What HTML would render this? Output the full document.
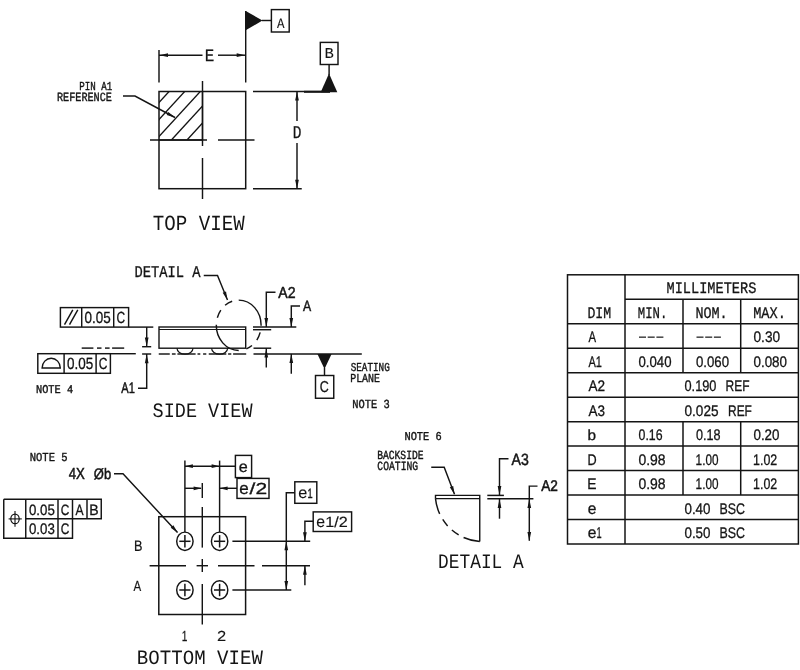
<!DOCTYPE html>
<html lang="en">
<head>
<meta charset="utf-8">
<title>Package outline drawing</title>
<style>
html,body{margin:0;padding:0;background:#fff;}
body{width:800px;height:670px;overflow:hidden;font-family:"Liberation Sans",sans-serif;}
svg{display:block;will-change:transform;}
svg line,svg path,svg rect,svg ellipse{fill:none;stroke:#141414;stroke-linecap:butt;stroke-linejoin:miter;}
svg .s{fill:#141414;stroke:none;}
svg .t{fill:#141414;text-rendering:geometricPrecision;}
</style>
</head>
<body>
<svg width="800" height="670" viewBox="0 0 800 670">

<clipPath id="hc"><rect x="159" y="91.5" width="43.5" height="48.5"/></clipPath>
<g clip-path="url(#hc)">
<line x1="124.6" y1="140" x2="184.6" y2="74.6" stroke-width="1.35"/>
<line x1="140.2" y1="140" x2="200.2" y2="74.6" stroke-width="1.35"/>
<line x1="155.8" y1="140" x2="215.8" y2="74.6" stroke-width="1.35"/>
<line x1="171.4" y1="140" x2="231.4" y2="74.6" stroke-width="1.35"/>
<line x1="187" y1="140" x2="247" y2="74.6" stroke-width="1.35"/>
</g>
<rect x="159" y="91.5" width="86.7" height="97.2" stroke-width="1.5"/>
<line x1="159" y1="140" x2="202.5" y2="140" stroke-width="1.4"/>
<line x1="202.5" y1="91.5" x2="202.5" y2="140" stroke-width="1.4"/>
<line x1="150" y1="140" x2="207" y2="140" stroke-width="1.45"/>
<line x1="218" y1="140" x2="254.5" y2="140" stroke-width="1.45"/>
<line x1="202.5" y1="81" x2="202.5" y2="146" stroke-width="1.45"/>
<line x1="202.5" y1="158" x2="202.5" y2="199" stroke-width="1.45"/>
<line x1="159" y1="50" x2="159" y2="82.5" stroke-width="1.45"/>
<line x1="245.7" y1="11" x2="245.7" y2="82.5" stroke-width="1.45"/>
<line x1="159" y1="55.2" x2="202.5" y2="55.2" stroke-width="1.45"/>
<line x1="218" y1="55.2" x2="245.7" y2="55.2" stroke-width="1.45"/>
<polygon class="s" points="159.5,55.2 168,53.35 168,57.05"/>
<polygon class="s" points="245.2,55.2 236.7,57.05 236.7,53.35"/>
<text class="t" transform="translate(204.73 61) scale(0.9129 1)" font-family="'Liberation Mono', monospace" font-size="17.34" stroke="#141414" stroke-width="0.3">E</text>
<polygon class="s" points="245.7,11 245.7,30.3 262.5,20.5"/>
<line x1="262" y1="20.5" x2="271" y2="20.5" stroke-width="1.45"/>
<rect x="271.4" y="9.6" width="17.8" height="22.4" stroke-width="1.45"/>
<text class="t" transform="translate(277 27.5) scale(0.8651 1)" font-family="'Liberation Mono', monospace" font-size="14.45" stroke="#141414" stroke-width="0.1">A</text>
<rect x="320.3" y="42.4" width="17.7" height="22.1" stroke-width="1.45"/>
<text class="t" transform="translate(324.51 57.5) scale(1.0220 1)" font-family="'Liberation Mono', monospace" font-size="15.21" stroke="#141414" stroke-width="0.1">B</text>
<line x1="329.1" y1="64.5" x2="329.1" y2="75" stroke-width="1.45"/>
<polygon class="s" points="329,73.4 320.7,92.3 337.3,92.3"/>
<line x1="304" y1="91.8" x2="330" y2="91.8" stroke-width="2"/>
<line x1="253" y1="91.5" x2="330" y2="91.5" stroke-width="1.45"/>
<line x1="253" y1="188.7" x2="301.75" y2="188.7" stroke-width="1.45"/>
<line x1="297" y1="91.5" x2="297" y2="121" stroke-width="1.45"/>
<line x1="297" y1="143" x2="297" y2="188.7" stroke-width="1.45"/>
<polygon class="s" points="297,91.5 298.85,100.5 295.15,100.5"/>
<polygon class="s" points="297,188.7 295.15,179.7 298.85,179.7"/>
<text class="t" transform="translate(292.74 138) scale(0.8062 1)" font-family="'Liberation Mono', monospace" font-size="17.95" stroke="#141414" stroke-width="0.3">D</text>
<path d="M123 96 L135 96 L175 117.5" stroke-width="1.45"/>
<polygon class="s" points="175,117.5 166.66,115.06 168.37,111.89"/>
<text class="t" transform="translate(79.27 89.5) scale(0.7526 1)" font-family="'Liberation Mono', monospace" font-size="12.17" stroke="#141414" stroke-width="0.4">PIN A1</text>
<text class="t" transform="translate(56.99 101.2) scale(0.8159 1)" font-family="'Liberation Mono', monospace" font-size="12.47" stroke="#141414" stroke-width="0.4">REFERENCE</text>
<text class="t" transform="translate(152.78 229.8) scale(0.8867 1)" font-family="'Liberation Mono', monospace" font-size="21.6">TOP VIEW</text>
<rect x="60.4" y="307.6" width="68.2" height="19.5" stroke-width="1.45"/>
<line x1="81.7" y1="307.6" x2="81.7" y2="327.1" stroke-width="1.45"/>
<line x1="113.7" y1="307.6" x2="113.7" y2="327.1" stroke-width="1.45"/>
<line x1="64.5" y1="324.6" x2="72.8" y2="309.9" stroke-width="1.4"/>
<line x1="69.5" y1="324.6" x2="77.8" y2="309.9" stroke-width="1.4"/>
<text class="t" transform="translate(84.56 322.9) scale(0.8336 1)" font-family="'Liberation Sans', sans-serif" font-size="16.15" stroke="#141414" stroke-width="0.3">0.05</text>
<text class="t" transform="translate(116.4 322.9) scale(0.7442 1)" font-family="'Liberation Sans', sans-serif" font-size="16.15" stroke="#141414" stroke-width="0.3">C</text>
<line x1="128.6" y1="327.1" x2="153.3" y2="327.1" stroke-width="1.45"/>
<rect x="37.8" y="353.7" width="72.6" height="19.6" stroke-width="1.45"/>
<line x1="64.1" y1="353.7" x2="64.1" y2="373.3" stroke-width="1.45"/>
<line x1="96.1" y1="353.7" x2="96.1" y2="373.3" stroke-width="1.45"/>
<path d="M42.1 368 L60.3 368 A9.1 9.7 0 0 0 42.1 368 Z" stroke-width="1.4"/>
<text class="t" transform="translate(66.96 368.9) scale(0.8261 1)" font-family="'Liberation Sans', sans-serif" font-size="16.29" stroke="#141414" stroke-width="0.3">0.05</text>
<text class="t" transform="translate(98.7 368.9) scale(0.7376 1)" font-family="'Liberation Sans', sans-serif" font-size="16.29" stroke="#141414" stroke-width="0.3">C</text>
<line x1="110.4" y1="353.7" x2="135.8" y2="353.7" stroke-width="1.45"/>
<line x1="81.7" y1="348.1" x2="93.4" y2="348.1" stroke-width="1.45"/>
<line x1="97" y1="348.1" x2="101.5" y2="348.1" stroke-width="1.45"/>
<line x1="105" y1="348.1" x2="109.6" y2="348.1" stroke-width="1.45"/>
<line x1="112.1" y1="348.1" x2="124.2" y2="348.1" stroke-width="1.45"/>
<line x1="146.7" y1="327.1" x2="146.7" y2="346.3" stroke-width="1.45"/>
<polygon class="s" points="146.7,346.5 144.85,337.5 148.55,337.5"/>
<line x1="142.1" y1="346.7" x2="151.2" y2="346.7" stroke-width="1.45"/>
<line x1="142.1" y1="354" x2="151.2" y2="354" stroke-width="1.45"/>
<polygon class="s" points="146.7,354.2 148.55,363.2 144.85,363.2"/>
<path d="M146.7 354 L146.7 388.2 L138 388.2" stroke-width="1.45"/>
<text class="t" transform="translate(121.37 393.4) scale(0.7329 1)" font-family="'Liberation Sans', sans-serif" font-size="15.13" stroke="#141414" stroke-width="0.5">A1</text>
<text class="t" transform="translate(35.97 393.4) scale(0.8697 1)" font-family="'Liberation Mono', monospace" font-size="11.86" stroke="#141414" stroke-width="0.4">NOTE 4</text>
<rect x="159" y="327" width="86.7" height="21.2" stroke-width="1.4"/>
<line x1="159" y1="329.5" x2="245.7" y2="329.5" stroke-width="1.2"/>
<path d="M177 348.2 A8 6.0 0 0 0 193 348.2" stroke-width="1.2"/>
<path d="M211.6 348.2 A8 6.0 0 0 0 227.6 348.2" stroke-width="1.2"/>
<line x1="158.75" y1="354" x2="169.75" y2="354" stroke-width="1.45"/>
<line x1="171.9" y1="354" x2="175.6" y2="354" stroke-width="1.45"/>
<line x1="177.4" y1="354" x2="195.6" y2="354" stroke-width="1.45"/>
<line x1="197.5" y1="354" x2="200.3" y2="354" stroke-width="1.45"/>
<line x1="203.1" y1="354" x2="206.3" y2="354" stroke-width="1.45"/>
<line x1="208.75" y1="354" x2="226.3" y2="354" stroke-width="1.45"/>
<line x1="228.1" y1="354" x2="231.3" y2="354" stroke-width="1.45"/>
<line x1="233.1" y1="354" x2="246.2" y2="354" stroke-width="1.45"/>
<path d="M238.7 300.1 A22.4 25.15 0 0 1 261.1 325.69" stroke-width="1.45"/>
<path d="M260.18 332.39 A22.4 25.15 0 0 1 256.82 340.03" stroke-width="1.45"/>
<path d="M251.96 345.52 A22.4 25.15 0 0 1 246.36 348.88" stroke-width="1.45"/>
<path d="M238.7 350.4 A22.4 25.15 0 0 1 216.3 324.81" stroke-width="1.45"/>
<path d="M217.34 317.69 A22.4 25.15 0 0 1 220.81 310.11" stroke-width="1.45"/>
<path d="M225.09 305.27 A22.4 25.15 0 0 1 232.15 301.2" stroke-width="1.45"/>
<path d="M203.75 275.5 L217.5 275.5 L227.5 300" stroke-width="1.45"/>
<polygon class="s" points="227.5,300 222.67,292.78 226.01,291.44"/>
<text class="t" transform="translate(134.4 277.4) scale(0.8397 1)" font-family="'Liberation Mono', monospace" font-size="16.43" stroke="#141414" stroke-width="0.3">DETAIL A</text>
<line x1="253" y1="326.9" x2="296.3" y2="326.9" stroke-width="1.45"/>
<line x1="253" y1="329.7" x2="271.2" y2="329.7" stroke-width="1.45"/>
<line x1="253.5" y1="348.2" x2="271.2" y2="348.2" stroke-width="1.45"/>
<line x1="253.5" y1="354" x2="361.8" y2="354" stroke-width="1.5"/>
<path d="M275.5 292.2 L266.3 292.2 L266.3 327" stroke-width="1.45"/>
<polygon class="s" points="266.3,326.9 264.45,317.9 268.15,317.9"/>
<line x1="266.3" y1="348.2" x2="266.3" y2="367.5" stroke-width="1.45"/>
<polygon class="s" points="266.3,348.4 268.15,357.4 264.45,357.4"/>
<text class="t" transform="translate(278.26 297.5) scale(0.8895 1)" font-family="'Liberation Sans', sans-serif" font-size="15.85" stroke="#141414" stroke-width="0.5">A2</text>
<path d="M300 305.9 L291.3 305.9 L291.3 327" stroke-width="1.45"/>
<polygon class="s" points="291.3,326.9 289.45,317.9 293.15,317.9"/>
<line x1="291.3" y1="353.9" x2="291.3" y2="373.75" stroke-width="1.45"/>
<polygon class="s" points="291.3,354.1 293.15,363.1 289.45,363.1"/>
<text class="t" transform="translate(302.97 311.1) scale(0.8161 1)" font-family="'Liberation Sans', sans-serif" font-size="14.98" stroke="#141414" stroke-width="0.5">A</text>
<polygon class="s" points="317.4,353.9 331.6,353.9 324.5,369"/>
<line x1="324.5" y1="368" x2="324.5" y2="375.5" stroke-width="1.45"/>
<rect x="315.5" y="375.5" width="18.25" height="22.75" stroke-width="1.45"/>
<text class="t" transform="translate(319.68 392) scale(0.7878 1)" font-family="'Liberation Sans', sans-serif" font-size="15.85" stroke="#141414" stroke-width="0.3">C</text>
<text class="t" transform="translate(350.63 370.9) scale(0.7662 1)" font-family="'Liberation Mono', monospace" font-size="12.17" stroke="#141414" stroke-width="0.4">SEATING</text>
<text class="t" transform="translate(350.2 381.8) scale(0.8169 1)" font-family="'Liberation Mono', monospace" font-size="12.17" stroke="#141414" stroke-width="0.4">PLANE</text>
<text class="t" transform="translate(352.17 408.1) scale(0.8452 1)" font-family="'Liberation Mono', monospace" font-size="12.32" stroke="#141414" stroke-width="0.4">NOTE 3</text>
<text class="t" transform="translate(152.56 417.3) scale(0.9023 1)" font-family="'Liberation Mono', monospace" font-size="20.53">SIDE VIEW</text>
<text class="t" transform="translate(29.66 460.5) scale(0.8676 1)" font-family="'Liberation Mono', monospace" font-size="12.17" stroke="#141414" stroke-width="0.4">NOTE 5</text>
<text class="t" transform="translate(68.7 479.1) scale(0.8227 1)" font-family="'Liberation Sans', sans-serif" font-size="16" stroke="#141414" stroke-width="0.5">4X</text>
<text class="t" transform="translate(93.81 479.1) scale(0.8560 1)" font-family="'Liberation Sans', sans-serif" font-size="15.17" stroke="#141414" stroke-width="0.5">Øb</text>
<path d="M114 473.7 L123 473.7 L177.5 532.5" stroke-width="1.45"/>
<polygon class="s" points="177.8,532.8 170.72,527.76 173.37,525.33"/>
<path d="M3.75 499.25 L101.25 499.25 L101.25 518.75 L25.75 518.75" stroke-width="1.45"/>
<path d="M3.75 499.25 L3.75 538.25 L72.5 538.25 L72.5 499.25" stroke-width="1.45"/>
<line x1="25.75" y1="499.25" x2="25.75" y2="538.25" stroke-width="1.45"/>
<line x1="58" y1="499.25" x2="58" y2="538.25" stroke-width="1.45"/>
<line x1="87" y1="499.25" x2="87" y2="518.75" stroke-width="1.45"/>
<ellipse cx="15" cy="518.9" rx="4.2" ry="4.8" stroke-width="1.2"/>
<line x1="8.6" y1="518.9" x2="21.8" y2="518.9" stroke-width="1.1"/>
<line x1="15" y1="511" x2="15" y2="526.8" stroke-width="1.1"/>
<text class="t" transform="translate(28.97 514.5) scale(0.8901 1)" font-family="'Liberation Sans', sans-serif" font-size="14.91" stroke="#141414" stroke-width="0.3">0.05</text>
<text class="t" transform="translate(60.66 514.5) scale(0.7953 1)" font-family="'Liberation Sans', sans-serif" font-size="14.91" stroke="#141414" stroke-width="0.3">C</text>
<text class="t" transform="translate(75.47 514.5) scale(0.8099 1)" font-family="'Liberation Sans', sans-serif" font-size="14.91" stroke="#141414" stroke-width="0.3">A</text>
<text class="t" transform="translate(89.34 514.5) scale(0.9447 1)" font-family="'Liberation Sans', sans-serif" font-size="14.91" stroke="#141414" stroke-width="0.3">B</text>
<text class="t" transform="translate(28.97 534.25) scale(0.8701 1)" font-family="'Liberation Sans', sans-serif" font-size="15.27" stroke="#141414" stroke-width="0.3">0.03</text>
<text class="t" transform="translate(60.66 534.25) scale(0.7764 1)" font-family="'Liberation Sans', sans-serif" font-size="15.27" stroke="#141414" stroke-width="0.3">C</text>
<rect x="158.8" y="516.7" width="86.8" height="97.8" stroke-width="1.5"/>
<ellipse cx="184.9" cy="541.3" rx="8.2" ry="9.2" stroke-width="1.45"/>
<line x1="179.3" y1="541.3" x2="190.5" y2="541.3" stroke-width="1.5"/>
<line x1="184.9" y1="535.1" x2="184.9" y2="547.5" stroke-width="1.5"/>
<ellipse cx="184.9" cy="590" rx="8.2" ry="9.2" stroke-width="1.45"/>
<line x1="179.3" y1="590" x2="190.5" y2="590" stroke-width="1.5"/>
<line x1="184.9" y1="583.8" x2="184.9" y2="596.2" stroke-width="1.5"/>
<ellipse cx="219.6" cy="541.3" rx="8.2" ry="9.2" stroke-width="1.45"/>
<line x1="214" y1="541.3" x2="225.2" y2="541.3" stroke-width="1.5"/>
<line x1="219.6" y1="535.1" x2="219.6" y2="547.5" stroke-width="1.5"/>
<ellipse cx="219.6" cy="590" rx="8.2" ry="9.2" stroke-width="1.45"/>
<line x1="214" y1="590" x2="225.2" y2="590" stroke-width="1.5"/>
<line x1="219.6" y1="583.8" x2="219.6" y2="596.2" stroke-width="1.5"/>
<line x1="202.3" y1="483" x2="202.3" y2="498" stroke-width="1.45"/>
<line x1="202.3" y1="507" x2="202.3" y2="547.6" stroke-width="1.45"/>
<line x1="202.3" y1="559" x2="202.3" y2="572" stroke-width="1.45"/>
<line x1="202.3" y1="584" x2="202.3" y2="624.5" stroke-width="1.45"/>
<line x1="149.6" y1="565.7" x2="186" y2="565.7" stroke-width="1.45"/>
<line x1="196.6" y1="565.7" x2="208" y2="565.7" stroke-width="1.45"/>
<line x1="218" y1="565.7" x2="254.5" y2="565.7" stroke-width="1.45"/>
<line x1="262" y1="565.7" x2="310" y2="565.7" stroke-width="1.45"/>
<line x1="184.9" y1="460.6" x2="184.9" y2="532.1" stroke-width="1.45"/>
<line x1="219.6" y1="460.6" x2="219.6" y2="532.1" stroke-width="1.45"/>
<line x1="184.9" y1="466.2" x2="235.4" y2="466.2" stroke-width="1.45"/>
<polygon class="s" points="184.9,466.2 192.9,464.35 192.9,468.05"/>
<polygon class="s" points="219.6,466.2 211.6,468.05 211.6,464.35"/>
<rect x="235.4" y="455.4" width="16.2" height="22.2" stroke-width="1.45"/>
<text class="t" transform="translate(238.71 472) scale(1.0347 1)" font-family="'Liberation Sans', sans-serif" font-size="15.63" stroke="#141414" stroke-width="0.3">e</text>
<line x1="184.9" y1="488.3" x2="201" y2="488.3" stroke-width="1.45"/>
<polygon class="s" points="201.6,488.3 193.6,490.15 193.6,486.45"/>
<line x1="219.6" y1="488.3" x2="237" y2="488.3" stroke-width="1.45"/>
<polygon class="s" points="219.6,488.3 227.6,486.45 227.6,490.15"/>
<rect x="237" y="478.4" width="32" height="20" stroke-width="1.45"/>
<text class="t" transform="translate(239.28 494) scale(1.0165 1)" font-family="'Liberation Sans', sans-serif" font-size="16.74" stroke="#141414" stroke-width="0.3">e</text>
<text class="t" transform="translate(249.6 494) scale(1.3099 1)" font-family="'Liberation Sans', sans-serif" font-size="16" stroke="#141414" stroke-width="0.3">/2</text>
<line x1="232.4" y1="541.3" x2="310.2" y2="541.3" stroke-width="1.6"/>
<line x1="232.4" y1="590" x2="291.3" y2="590" stroke-width="1.6"/>
<path d="M294.8 492.8 L286.3 492.8 L286.3 590" stroke-width="1.45"/>
<polygon class="s" points="286.3,541.3 288.15,550.3 284.45,550.3"/>
<polygon class="s" points="286.3,590 284.45,581 288.15,581"/>
<rect x="294.8" y="481.8" width="22" height="21.5" stroke-width="1.45"/>
<text class="t" transform="translate(298.31 498.3) scale(1.0106 1)" font-family="'Liberation Sans', sans-serif" font-size="16" stroke="#141414" stroke-width="0.15">e</text>
<text class="t" transform="translate(307.51 498.2) scale(0.6911 1)" font-family="'Liberation Sans', sans-serif" font-size="13.38" stroke="#141414" stroke-width="0.35">1</text>
<path d="M313.2 521.3 L304.9 521.3 L304.9 541.3" stroke-width="1.45"/>
<polygon class="s" points="304.9,541.3 303.05,532.3 306.75,532.3"/>
<line x1="304.9" y1="565.7" x2="304.9" y2="585.3" stroke-width="1.45"/>
<polygon class="s" points="304.9,565.7 306.75,574.7 303.05,574.7"/>
<rect x="313.2" y="511.9" width="38.4" height="19.6" stroke-width="1.45"/>
<text class="t" transform="translate(316.33 527.2) scale(0.9840 1)" font-family="'Liberation Sans', sans-serif" font-size="16" stroke="#141414" stroke-width="0.15">e</text>
<text class="t" transform="translate(325.18 527.2) scale(1.0923 1)" font-family="'Liberation Sans', sans-serif" font-size="14.84" stroke="#141414" stroke-width="0.15">1/2</text>
<text class="t" transform="translate(133.95 550.5) scale(0.8300 1)" font-family="'Liberation Sans', sans-serif" font-size="15.27" stroke="#141414" stroke-width="0.22">B</text>
<text class="t" transform="translate(133.57 591) scale(0.7887 1)" font-family="'Liberation Sans', sans-serif" font-size="14.55" stroke="#141414" stroke-width="0.22">A</text>
<text class="t" transform="translate(181.64 641) scale(0.6994 1)" font-family="'Liberation Sans', sans-serif" font-size="14.55" stroke="#141414" stroke-width="0.25">1</text>
<text class="t" transform="translate(216.98 641) scale(1.1332 1)" font-family="'Liberation Sans', sans-serif" font-size="14.55" stroke="#141414" stroke-width="0.1">2</text>
<text class="t" transform="translate(136.87 664) scale(0.9377 1)" font-family="'Liberation Mono', monospace" font-size="20.38">BOTTOM VIEW</text>
<text class="t" transform="translate(404.42 440) scale(0.8612 1)" font-family="'Liberation Mono', monospace" font-size="12.02" stroke="#141414" stroke-width="0.4">NOTE 6</text>
<text class="t" transform="translate(377.13 458.75) scale(0.7813 1)" font-family="'Liberation Mono', monospace" font-size="12.4" stroke="#141414" stroke-width="0.4">BACKSIDE</text>
<text class="t" transform="translate(377.37 470.25) scale(0.7731 1)" font-family="'Liberation Mono', monospace" font-size="12.55" stroke="#141414" stroke-width="0.4">COATING</text>
<path d="M431.25 467.2 L444.2 467.2 L454.5 494.25" stroke-width="1.45"/>
<polygon class="s" points="454.6,494.6 449.83,487.34 453.18,486.03"/>
<path d="M435.5 498.65 L435.5 495.4 L479.75 495.4 L479.75 541.5" stroke-width="1.4"/>
<line x1="435.5" y1="498.65" x2="479.75" y2="498.65" stroke-width="1.2"/>
<path d="M435.5 498.65 A47.8 47.8 0 0 0 439.68 513.9" stroke-width="1.45"/>
<path d="M442.73 519.47 A47.8 47.8 0 0 0 447.63 525.91" stroke-width="1.45"/>
<path d="M451.88 530.05 A47.8 47.8 0 0 0 458.65 534.91" stroke-width="1.45"/>
<path d="M463.58 537.47 A47.8 47.8 0 0 0 479.75 541.5" stroke-width="1.45"/>
<path d="M508.5 458.8 L499.5 458.8 L499.5 495" stroke-width="1.45"/>
<polygon class="s" points="499.5,495 497.65,486 501.35,486"/>
<line x1="487.3" y1="495.4" x2="503.9" y2="495.4" stroke-width="1.5"/>
<line x1="487.3" y1="498.65" x2="533.4" y2="498.65" stroke-width="1.5"/>
<line x1="499.5" y1="498.75" x2="499.5" y2="518.7" stroke-width="1.45"/>
<polygon class="s" points="499.5,499 501.35,508 497.65,508"/>
<text class="t" transform="translate(511.56 464.6) scale(0.8654 1)" font-family="'Liberation Sans', sans-serif" font-size="16.29" stroke="#141414" stroke-width="0.5">A3</text>
<path d="M537.5 486.1 L529.3 486.1 L529.3 540.75" stroke-width="1.45"/>
<polygon class="s" points="529.3,499 531.15,508 527.45,508"/>
<polygon class="s" points="529.3,541 527.45,532 531.15,532"/>
<text class="t" transform="translate(541.17 491.1) scale(0.8787 1)" font-family="'Liberation Sans', sans-serif" font-size="15.56" stroke="#141414" stroke-width="0.5">A2</text>
<text class="t" transform="translate(438.07 568) scale(0.8693 1)" font-family="'Liberation Mono', monospace" font-size="20.53">DETAIL A</text>
<rect x="567.5" y="274.8" width="230.9" height="269.2" stroke-width="1.5"/>
<line x1="625" y1="274.8" x2="625" y2="544" stroke-width="1.5"/>
<line x1="625" y1="299.27" x2="798.4" y2="299.27" stroke-width="1.5"/>
<line x1="567.5" y1="323.75" x2="798.4" y2="323.75" stroke-width="1.5"/>
<line x1="567.5" y1="348.22" x2="798.4" y2="348.22" stroke-width="1.5"/>
<line x1="567.5" y1="372.69" x2="798.4" y2="372.69" stroke-width="1.5"/>
<line x1="567.5" y1="397.16" x2="798.4" y2="397.16" stroke-width="1.5"/>
<line x1="567.5" y1="421.64" x2="798.4" y2="421.64" stroke-width="1.5"/>
<line x1="567.5" y1="446.11" x2="798.4" y2="446.11" stroke-width="1.5"/>
<line x1="567.5" y1="470.58" x2="798.4" y2="470.58" stroke-width="1.5"/>
<line x1="567.5" y1="495.05" x2="798.4" y2="495.05" stroke-width="1.5"/>
<line x1="567.5" y1="519.53" x2="798.4" y2="519.53" stroke-width="1.5"/>
<line x1="683" y1="299.27" x2="683" y2="372.69" stroke-width="1.5"/>
<line x1="740.7" y1="299.27" x2="740.7" y2="372.69" stroke-width="1.5"/>
<line x1="683" y1="421.64" x2="683" y2="495.05" stroke-width="1.5"/>
<line x1="740.7" y1="421.64" x2="740.7" y2="495.05" stroke-width="1.5"/>
<text class="t" transform="translate(666.55 293.3) scale(0.8513 1)" font-family="'Liberation Mono', monospace" font-size="15.97" stroke="#141414" stroke-width="0.3">MILLIMETERS</text>
<text class="t" transform="translate(587.44 317.77) scale(0.8274 1)" font-family="'Liberation Mono', monospace" font-size="15.97" stroke="#141414" stroke-width="0.3">DIM</text>
<text class="t" transform="translate(637.83 317.77) scale(0.7712 1)" font-family="'Liberation Mono', monospace" font-size="15.97" stroke="#141414" stroke-width="0.3">MIN.</text>
<text class="t" transform="translate(695.43 317.77) scale(0.8409 1)" font-family="'Liberation Mono', monospace" font-size="15.97" stroke="#141414" stroke-width="0.3">NOM.</text>
<text class="t" transform="translate(753.15 317.77) scale(0.8548 1)" font-family="'Liberation Mono', monospace" font-size="15.97" stroke="#141414" stroke-width="0.3">MAX.</text>
<text class="t" transform="translate(588.47 342.25) scale(0.7412 1)" font-family="'Liberation Sans', sans-serif" font-size="15.27" stroke="#141414" stroke-width="0.3">A</text>
<text class="t" transform="translate(753.45 342.25) scale(0.8976 1)" font-family="'Liberation Sans', sans-serif" font-size="15.27" stroke="#141414" stroke-width="0.3">0.30</text>
<line x1="639" y1="337.15" x2="646" y2="337.15" stroke-width="1.2"/>
<line x1="647.7" y1="337.15" x2="654.7" y2="337.15" stroke-width="1.2"/>
<line x1="656.4" y1="337.15" x2="663.4" y2="337.15" stroke-width="1.2"/>
<line x1="696.5" y1="337.15" x2="703.5" y2="337.15" stroke-width="1.2"/>
<line x1="705.2" y1="337.15" x2="712.2" y2="337.15" stroke-width="1.2"/>
<line x1="713.9" y1="337.15" x2="720.9" y2="337.15" stroke-width="1.2"/>
<text class="t" transform="translate(588.47 366.72) scale(0.7204 1)" font-family="'Liberation Sans', sans-serif" font-size="15.27" stroke="#141414" stroke-width="0.3">A1</text>
<text class="t" transform="translate(638.47 366.72) scale(0.8640 1)" font-family="'Liberation Sans', sans-serif" font-size="15.27" stroke="#141414" stroke-width="0.3">0.040</text>
<text class="t" transform="translate(695.97 366.72) scale(0.8667 1)" font-family="'Liberation Sans', sans-serif" font-size="15.27" stroke="#141414" stroke-width="0.3">0.060</text>
<text class="t" transform="translate(753.46 366.72) scale(0.8775 1)" font-family="'Liberation Sans', sans-serif" font-size="15.27" stroke="#141414" stroke-width="0.3">0.080</text>
<text class="t" transform="translate(588.47 391.19) scale(0.8898 1)" font-family="'Liberation Sans', sans-serif" font-size="15.27" stroke="#141414" stroke-width="0.3">A2</text>
<text class="t" transform="translate(684.49 391.19) scale(0.8370 1)" font-family="'Liberation Sans', sans-serif" font-size="15.27" stroke="#141414" stroke-width="0.3">0.190</text>
<text class="t" transform="translate(725.51 391.19) scale(0.7847 1)" font-family="'Liberation Sans', sans-serif" font-size="15.27" stroke="#141414" stroke-width="0.3">REF</text>
<text class="t" transform="translate(588.47 415.66) scale(0.8841 1)" font-family="'Liberation Sans', sans-serif" font-size="15.27" stroke="#141414" stroke-width="0.3">A3</text>
<text class="t" transform="translate(684.46 415.66) scale(0.8919 1)" font-family="'Liberation Sans', sans-serif" font-size="15.27" stroke="#141414" stroke-width="0.3">0.025</text>
<text class="t" transform="translate(728.02 415.66) scale(0.7812 1)" font-family="'Liberation Sans', sans-serif" font-size="15.27" stroke="#141414" stroke-width="0.3">REF</text>
<text class="t" transform="translate(638.51 440.14) scale(0.8086 1)" font-family="'Liberation Sans', sans-serif" font-size="15.27" stroke="#141414" stroke-width="0.3">0.16</text>
<text class="t" transform="translate(696 440.14) scale(0.8261 1)" font-family="'Liberation Sans', sans-serif" font-size="15.27" stroke="#141414" stroke-width="0.3">0.18</text>
<text class="t" transform="translate(753.46 440.14) scale(0.8765 1)" font-family="'Liberation Sans', sans-serif" font-size="15.27" stroke="#141414" stroke-width="0.3">0.20</text>
<text class="t" transform="translate(587.5 440.14) scale(1.0587 1)" font-family="'Liberation Sans', sans-serif" font-size="14.48" stroke="#141414" stroke-width="0.3">b</text>
<text class="t" transform="translate(587.46 464.61) scale(0.8288 1)" font-family="'Liberation Sans', sans-serif" font-size="15.27" stroke="#141414" stroke-width="0.3">D</text>
<text class="t" transform="translate(638.44 464.61) scale(0.9140 1)" font-family="'Liberation Sans', sans-serif" font-size="15.27" stroke="#141414" stroke-width="0.3">0.98</text>
<text class="t" transform="translate(695.62 464.61) scale(0.7682 1)" font-family="'Liberation Sans', sans-serif" font-size="15.27" stroke="#141414" stroke-width="0.3">1.00</text>
<text class="t" transform="translate(753.07 464.61) scale(0.8131 1)" font-family="'Liberation Sans', sans-serif" font-size="15.27" stroke="#141414" stroke-width="0.3">1.02</text>
<text class="t" transform="translate(587.36 489.08) scale(0.9052 1)" font-family="'Liberation Sans', sans-serif" font-size="15.27" stroke="#141414" stroke-width="0.3">E</text>
<text class="t" transform="translate(638.44 489.08) scale(0.9140 1)" font-family="'Liberation Sans', sans-serif" font-size="15.27" stroke="#141414" stroke-width="0.3">0.98</text>
<text class="t" transform="translate(695.62 489.08) scale(0.7682 1)" font-family="'Liberation Sans', sans-serif" font-size="15.27" stroke="#141414" stroke-width="0.3">1.00</text>
<text class="t" transform="translate(753.07 489.08) scale(0.8131 1)" font-family="'Liberation Sans', sans-serif" font-size="15.27" stroke="#141414" stroke-width="0.3">1.02</text>
<text class="t" transform="translate(684.46 513.55) scale(0.8765 1)" font-family="'Liberation Sans', sans-serif" font-size="15.27" stroke="#141414" stroke-width="0.3">0.40</text>
<text class="t" transform="translate(719.48 513.55) scale(0.8121 1)" font-family="'Liberation Sans', sans-serif" font-size="15.27" stroke="#141414" stroke-width="0.3">BSC</text>
<text class="t" transform="translate(587.84 513.65) scale(0.9487 1)" font-family="'Liberation Sans', sans-serif" font-size="16.37" stroke="#141414" stroke-width="0.3">e</text>
<text class="t" transform="translate(684.46 538.03) scale(0.8765 1)" font-family="'Liberation Sans', sans-serif" font-size="15.27" stroke="#141414" stroke-width="0.3">0.50</text>
<text class="t" transform="translate(719.48 538.03) scale(0.8121 1)" font-family="'Liberation Sans', sans-serif" font-size="15.27" stroke="#141414" stroke-width="0.3">BSC</text>
<text class="t" transform="translate(587.84 538.13) scale(0.9487 1)" font-family="'Liberation Sans', sans-serif" font-size="16.37" stroke="#141414" stroke-width="0.3">e</text>
<text class="t" transform="translate(596.51 538.13) scale(0.5887 1)" font-family="'Liberation Sans', sans-serif" font-size="15.71" stroke="#141414" stroke-width="0.3">1</text>
</svg>
</body>
</html>
